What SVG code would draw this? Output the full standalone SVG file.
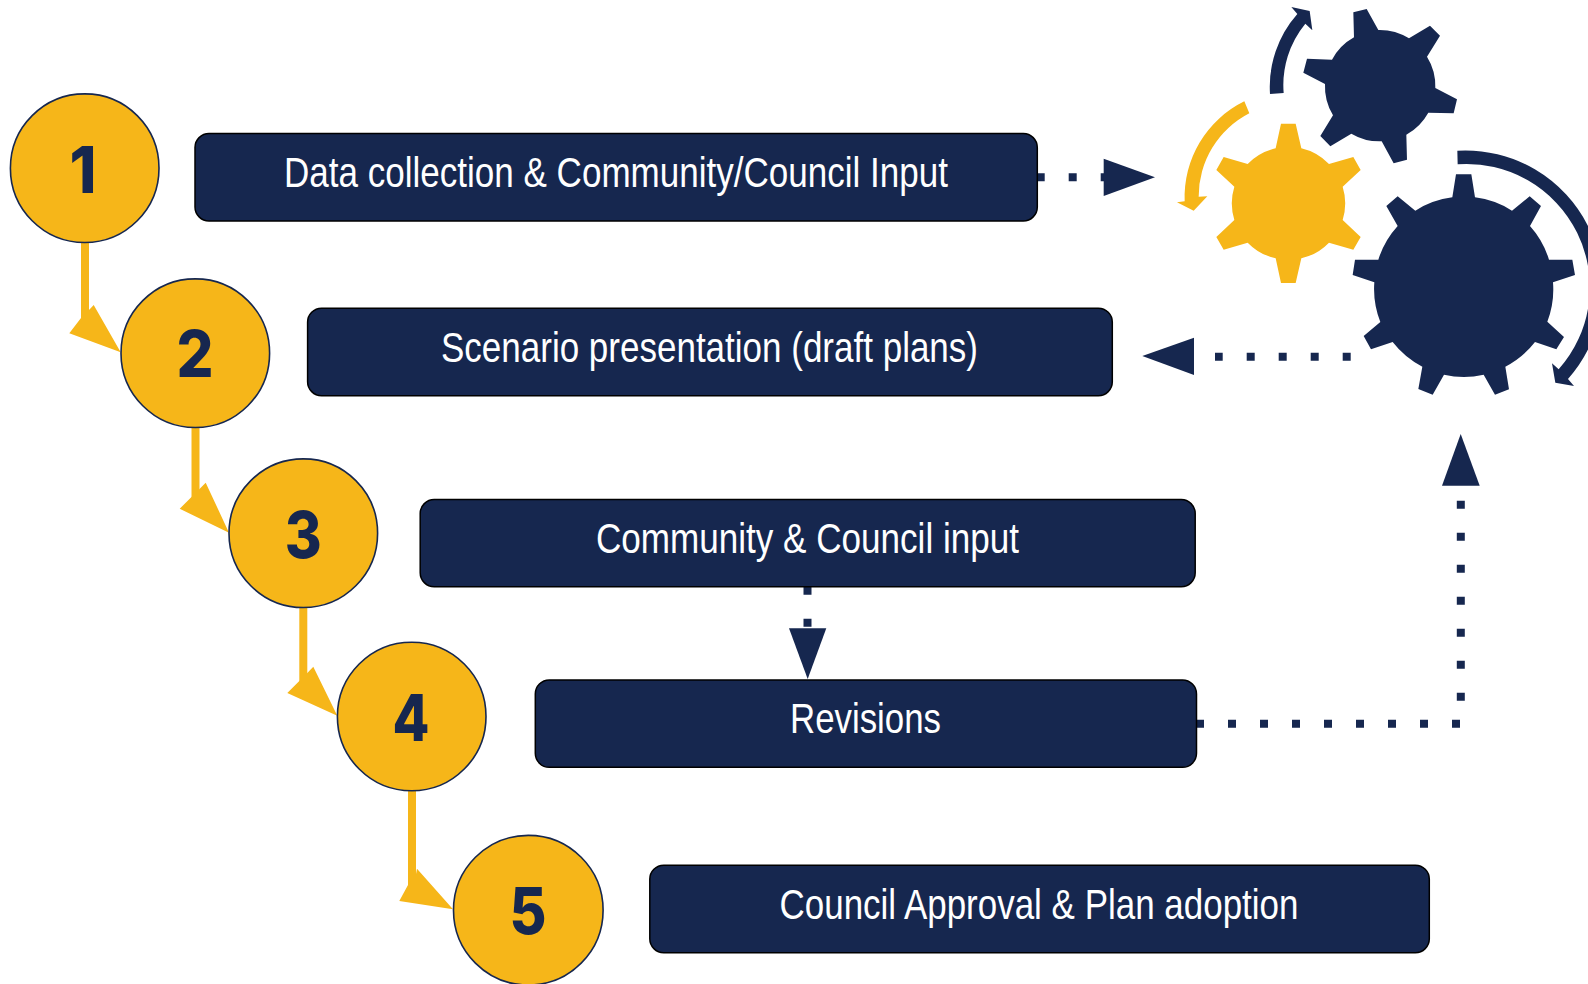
<svg xmlns="http://www.w3.org/2000/svg" width="1588" height="984" viewBox="0 0 1588 984">
<style>
.box{fill:#16274f;stroke:#000;stroke-width:1.5}
.lbl{font-family:"Liberation Sans",Arial,sans-serif;font-size:42px;fill:#fff}
.num{fill:#f6b619;stroke:#16274f;stroke-width:1.6}
.dig{font-family:Inter,"Liberation Sans",sans-serif;font-weight:800;font-size:65px;fill:#16274f;text-anchor:middle}
.yl{stroke:#f6b619;stroke-width:8;fill:none}
.yh{fill:#f6b619}
.dot{stroke:#16274f;stroke-width:8;fill:none;stroke-dasharray:8 24}
.nh{fill:#16274f}
</style>
<rect width="1588" height="984" fill="#fff"/>
<g id="connectors">
<path class="yl" d="M85 242V322"/><polygon class="yh" points="120.7,352.3 69.3,333.3 81,318 89,310 93.7,305"/>
<path class="yl" d="M195.5 427V500"/><polygon class="yh" points="229,532.7 179.7,508.7 191.5,497 199.5,489 205.7,482.7"/>
<path class="yl" d="M303.3 607V684"/><polygon class="yh" points="337.3,715.7 287.3,693 299.3,681 307.3,673 313.3,666.7"/>
<path class="yl" d="M412 790V885"/><polygon class="yh" points="453,909.3 399.3,901 408,885 416,874 417,868.7"/>
<path class="dot" d="M1036.7 177.3H1110"/><polygon class="nh" points="1155,177.3 1103.7,158.7 1103.7,196"/>
<path class="dot" d="M1350.7 356.8H1215"/><polygon class="nh" points="1142.3,356 1194,337.7 1194,375"/>
<path class="dot" d="M807.5 586.7V627"/><polygon class="nh" points="807.7,679 789,628.3 826.3,628.3"/>
<path class="dot" d="M1196 723.7H1461"/><path class="dot" d="M1460.8 700.7V500"/><polygon class="nh" points="1460.7,434 1442,485.7 1479.7,485.7"/>
</g>
<g id="gears" transform="translate(1120 0) scale(.33333)">
<path id="gear-yellow" fill="#f6b619" d="M483 371H527L544 445A170 170 0 0 1 627 492L700 471L722 510L668 560A170 170 0 0 1 668 660L722 711L700 749L627 728A170 170 0 0 1 544 775L527 849H483L467 775A170 170 0 0 1 383 728L311 749L289 711L343 660A170 170 0 0 1 343 560L289 510L311 471L383 492A170 170 0 0 1 467 445Z"/>
<path id="gear-small" fill="#16274f" d="M700 37L740 27L775 90A167 167 0 0 1 867 115L930 77L960 107L921 170A167 167 0 0 1 946 264L1011 298L1001 340L925 338A167 167 0 0 1 859 404L861 479L821 490L785 424A167 167 0 0 1 694 401L631 439L601 408L639 346A167 167 0 0 1 615 252L550 218L561 176L636 179A167 167 0 0 1 702 112Z"/>
<path id="gear-large" fill="#16274f" d="M1008 523H1054L1065 592A269 269 0 0 1 1176 632L1229 589L1263 618L1230 678A269 269 0 0 1 1287 779H1357L1365 825L1299 847A269 269 0 0 1 1282 965L1332 1011L1309 1048L1245 1026A269 269 0 0 1 1156 1100L1167 1168L1125 1184L1091 1124A269 269 0 0 1 972 1124L938 1184L895 1167L907 1100A269 269 0 0 1 818 1026L753 1048L731 1008L781 966A269 269 0 0 1 763 847L698 825L705 779H775A269 269 0 0 1 833 678L799 618L833 589L886 632A269 269 0 0 1 997 592Z"/>
<path id="arc-small" fill="#16274f" d="M450 282A330 330 0 0 1 532 42L514 21L569 33L577 91L556 71A290 290 0 0 0 491 279Z"/>
<path id="arc-yellow" fill="#f6b619" d="M373 304A320 320 0 0 0 194 604L171 607L221 632L262 589L236 590A280 280 0 0 1 388 340Z"/>
<path id="arc-large" fill="#16274f" d="M1012 452A412 412 0 0 1 1344 1137L1362 1158L1306 1148L1296 1090L1316 1108A370 370 0 0 0 1013 493Z"/>
</g>
<g id="node-1"><circle class="num" cx="84.7" cy="168.2" r="74.3"/><text class="dig" x="83" y="192.7" textLength="27" lengthAdjust="spacingAndGlyphs">1</text></g>
<g id="node-2"><circle class="num" cx="195.3" cy="353.2" r="74.3"/><text class="dig" x="195" y="376.7" textLength="37" lengthAdjust="spacingAndGlyphs">2</text></g>
<g id="node-3"><circle class="num" cx="303.3" cy="533.2" r="74.3"/><text class="dig" x="303.3" y="557.5" textLength="37" lengthAdjust="spacingAndGlyphs">3</text></g>
<g id="node-4"><circle class="num" cx="411.7" cy="716.5" r="74.3"/><text class="dig" x="411" y="741" textLength="37" lengthAdjust="spacingAndGlyphs">4</text></g>
<g id="node-5"><circle class="num" cx="528.3" cy="910.2" r="74.8"/><text class="dig" x="528" y="934" textLength="37" lengthAdjust="spacingAndGlyphs">5</text></g>
<g id="box-1"><rect class="box" x="195" y="133.5" width="842.3" height="87.5" rx="14"/><text class="lbl" x="284" y="186.7" textLength="664" lengthAdjust="spacingAndGlyphs">Data collection &amp; Community/Council Input</text></g>
<g id="box-2"><rect class="box" x="307.6" y="308.2" width="804.7" height="87.5" rx="14"/><text class="lbl" x="441" y="361.7" textLength="537" lengthAdjust="spacingAndGlyphs">Scenario presentation (draft plans)</text></g>
<g id="box-3"><rect class="box" x="420.2" y="499.5" width="775" height="87.2" rx="14"/><text class="lbl" x="596" y="552.8" textLength="423" lengthAdjust="spacingAndGlyphs">Community &amp; Council input</text></g>
<g id="box-4"><rect class="box" x="535.3" y="679.9" width="661.2" height="87.4" rx="14"/><text class="lbl" x="790" y="732.7" textLength="151" lengthAdjust="spacingAndGlyphs">Revisions</text></g>
<g id="box-5"><rect class="box" x="649.8" y="865.2" width="779.5" height="87.5" rx="14"/><text class="lbl" x="779.5" y="919" textLength="519" lengthAdjust="spacingAndGlyphs">Council Approval &amp; Plan adoption</text></g>
</svg>
